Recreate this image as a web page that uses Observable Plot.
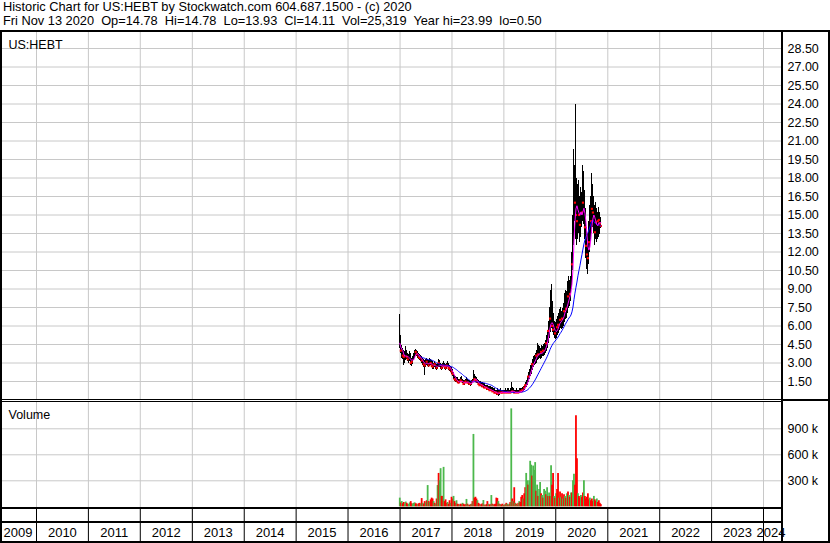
<!DOCTYPE html>
<html><head><meta charset="utf-8">
<script src="https://cdn.jsdelivr.net/npm/d3@7"></script>
<script src="https://cdn.jsdelivr.net/npm/@observablehq/plot@0.6"></script>
<style>
html,body{margin:0;padding:0;background:#fff;}
#chart{position:relative;width:830px;height:543px;overflow:hidden;background:#fff;font-family:"Liberation Sans",Arial,sans-serif;color:#000;}
.hdr{position:absolute;left:3px;font-size:12.8px;white-space:pre;line-height:14px;}
.ln{position:absolute;background:#000;}
.pl{position:absolute;left:0;}
</style></head><body><div id="chart"></div>
<script>
// ---------- data ----------
const title = "Historic Chart for US:HEBT by Stockwatch.com 604.687.1500 - (c) 2020";
const quote = "Fri Nov 13 2020  Op=14.78  Hi=14.78  Lo=13.93  Cl=14.11  Vol=25,319  Year hi=23.99  lo=0.50";
const symbol = "US:HEBT";
const volumeTitle = "Volume";
const firstWeek = "2016-12-30"; // weekly bars, one per week
const high = [
 6.9,5.2,4.4,4.2,4.0,3.9,4.3,4.0,3.8,3.7,
 3.9,3.8,3.4,3.5,3.8,4.0,4.1,4.0,3.9,3.8,
 3.7,3.6,3.5,3.4,3.3,3.2,3.3,3.4,3.3,3.2,
 3.4,3.3,3.2,3.1,3.0,3.1,3.0,2.9,3.0,3.3,
 3.2,3.0,2.9,3.0,3.1,3.0,2.9,3.0,3.1,3.0,
 2.8,2.7,2.6,2.5,2.2,2.0,1.9,1.8,1.8,1.7,
 1.7,1.8,1.9,1.7,1.6,1.6,1.7,1.8,1.7,1.6,
 1.6,1.5,1.6,1.7,2.4,2.1,1.9,1.8,1.7,1.6,
 1.5,1.5,1.4,1.4,1.3,1.3,1.2,1.2,1.2,1.1,
 1.1,1.1,1.0,1.0,0.9,0.9,0.8,0.8,0.9,0.8,
 0.8,0.9,0.8,0.8,0.8,0.8,0.9,0.8,0.9,0.9,
 0.8,0.9,1.4,1.0,0.9,0.8,0.8,0.9,0.8,0.8,
 0.9,0.9,0.9,1.0,1.1,1.2,1.4,1.6,1.9,2.2,
 2.5,2.8,3.0,3.3,3.5,3.6,3.8,4.0,4.6,4.4,
 4.3,4.2,4.4,4.3,4.5,4.6,4.8,5.2,5.6,6.4,
 7.5,8.9,9.4,8.0,7.0,6.4,6.3,6.5,6.8,7.0,
 7.3,7.5,7.2,7.4,7.8,8.6,8.9,8.4,8.8,9.6,
 10.0,9.7,10.0,12.0,15.0,20.3,19.0,23.99,18.0,17.5,
 17.8,16.5,17.2,16.8,19.0,18.5,17.0,15.5,14.0,13.5,
 14.5,15.8,16.5,18.4,17.5,16.5,15.8,16.0,15.5,15.2,
 15.6,15.2,14.78];
const low = [
 4.2,3.8,3.4,3.3,2.8,3.0,3.2,3.3,3.1,3.0,
 3.1,2.8,2.7,2.9,3.2,3.4,3.5,3.5,3.4,3.3,
 3.2,3.1,3.0,2.8,2.6,2.0,2.6,2.8,2.7,2.6,
 2.7,2.8,2.6,2.5,2.5,2.6,2.5,2.4,2.5,2.6,
 2.6,2.5,2.4,2.5,2.6,2.5,2.4,2.5,2.6,2.4,
 2.3,2.2,2.1,1.9,1.7,1.5,1.4,1.4,1.3,1.3,
 1.3,1.4,1.4,1.3,1.2,1.2,1.3,1.3,1.3,1.2,
 1.2,1.1,1.2,1.3,1.4,1.5,1.4,1.3,1.3,1.2,
 1.1,1.1,1.0,1.0,0.9,0.9,0.9,0.8,0.8,0.8,
 0.7,0.7,0.7,0.6,0.6,0.5,0.5,0.4,0.4,0.3,
 0.4,0.5,0.5,0.5,0.5,0.5,0.5,0.5,0.5,0.5,
 0.5,0.5,0.6,0.6,0.5,0.5,0.5,0.5,0.5,0.5,
 0.5,0.6,0.6,0.6,0.7,0.8,0.9,1.0,1.2,1.4,
 1.7,1.9,2.1,2.4,2.6,2.8,2.9,3.0,3.2,3.3,
 3.4,3.3,3.4,3.5,3.5,3.6,3.8,3.9,4.2,4.6,
 5.0,5.5,5.8,5.5,5.2,5.0,4.9,5.0,5.2,5.4,
 5.6,5.8,5.7,5.8,6.0,6.3,6.5,6.6,6.8,7.0,
 7.4,7.6,8.0,9.0,10.5,12.5,14.5,13.0,12.5,13.0,
 13.5,12.8,13.2,14.0,14.5,14.2,13.0,11.5,10.6,10.2,
 11.0,12.0,12.8,13.5,14.0,13.5,12.5,13.0,12.8,13.0,
 13.2,13.4,13.93];
const close = [
 4.6,4.0,3.8,3.6,3.5,3.3,3.9,3.5,3.3,3.2,
 3.6,3.0,3.1,3.3,3.6,3.8,3.9,3.7,3.6,3.5,
 3.4,3.3,3.2,3.0,2.9,2.8,3.0,3.1,2.9,2.8,
 3.1,3.0,2.8,2.7,2.8,2.9,2.7,2.6,2.7,3.0,
 2.8,2.7,2.6,2.8,2.9,2.7,2.6,2.8,2.9,2.6,
 2.5,2.4,2.3,2.1,1.9,1.7,1.6,1.5,1.5,1.4,
 1.5,1.6,1.5,1.4,1.3,1.4,1.5,1.5,1.4,1.4,
 1.3,1.3,1.4,1.5,1.9,1.7,1.6,1.5,1.4,1.3,
 1.2,1.3,1.2,1.1,1.1,1.0,1.0,1.0,0.9,0.9,
 0.8,0.8,0.8,0.7,0.7,0.6,0.6,0.6,0.5,0.5,
 0.6,0.7,0.6,0.6,0.6,0.6,0.6,0.6,0.7,0.6,
 0.6,0.6,0.9,0.7,0.6,0.6,0.6,0.6,0.6,0.6,
 0.7,0.7,0.7,0.8,0.9,1.0,1.2,1.4,1.6,1.9,
 2.2,2.4,2.7,2.9,3.1,3.2,3.4,3.6,3.8,3.7,
 3.8,3.7,3.9,3.8,4.0,4.1,4.3,4.6,5.0,5.6,
 6.2,6.6,6.3,6.0,5.7,5.5,5.4,5.6,5.9,6.1,
 6.4,6.5,6.3,6.6,6.9,7.2,7.6,7.4,7.8,8.4,
 8.8,8.6,9.2,11.0,13.5,17.5,16.0,15.0,14.5,16.2,
 15.0,14.2,15.6,15.2,16.0,15.4,14.0,12.5,11.8,11.5,
 12.8,13.5,14.5,15.5,15.2,14.8,13.6,14.4,14.0,14.5,
 14.6,14.3,14.11];
const volumeK = [
 100,45,60,35,50,30,55,40,25,30,
 45,60,35,30,40,45,35,30,25,35,
 40,30,95,40,30,60,45,70,245,60,
 50,80,100,90,60,40,30,90,245,385,
 300,440,120,120,455,60,80,40,50,30,
 70,40,110,90,120,60,40,70,30,25,
 20,30,25,40,30,20,25,85,30,20,
 15,25,30,60,835,100,110,90,70,40,
 30,20,25,35,73,20,15,25,60,30,
 20,25,130,30,20,25,30,100,95,60,
 30,25,20,30,15,20,25,40,30,20,
 30,50,1130,90,60,220,40,30,20,40,
 60,50,110,130,90,150,220,385,300,250,
 300,525,480,355,470,420,510,180,250,120,
 200,280,150,130,100,200,180,140,220,120,
 160,120,475,250,385,120,100,150,200,385,
 100,170,110,150,90,140,120,100,150,170,
 130,110,160,160,300,375,250,1050,555,150,
 120,100,130,110,160,300,120,90,110,150,
 80,100,70,90,60,120,80,60,90,50,
 70,40,25];
// 1 = up day (green volume), 0 = down day (red volume, red close mark)
const upWeek = [
 1,0,1,0,0,1,1,0,0,1,
 1,0,0,1,1,1,0,0,1,0,
 0,1,0,1,0,0,1,0,1,0,
 1,0,0,0,1,0,1,0,1,0,
 1,1,0,0,1,0,0,0,1,0,
 0,1,0,0,1,0,0,1,0,0,
 1,0,0,1,0,0,0,1,0,1,
 0,0,1,0,1,0,0,0,1,0,
 0,1,0,0,1,0,1,0,0,1,
 0,0,1,0,1,0,0,0,0,1,
 0,1,0,0,1,0,1,0,1,0,
 1,0,1,0,1,0,1,0,1,0,
 1,0,0,0,1,0,0,1,1,0,
 1,1,1,0,1,1,1,0,1,0,
 1,1,0,1,0,1,1,0,1,0,
 1,0,1,0,0,1,0,1,0,0,
 1,0,1,0,1,0,1,0,1,0,
 1,0,1,0,1,1,0,0,0,1,
 0,0,1,0,0,1,0,0,0,0,
 0,1,0,0,0,1,0,0,1,0,
 0,0,0];
const priceTicks = [1.5,3,4.5,6,7.5,9,10.5,12,13.5,15,16.5,18,19.5,21,22.5,24,25.5,27,28.5];
const volumeTicks = [300000,600000,900000];
const years = [2009,2010,2011,2012,2013,2014,2015,2016,2017,2018,2019,2020,2021,2022,2023,2024];

// ---------- build ----------
const t0 = new Date(firstWeek + "T00:00:00Z");
const rows = high.map((h, i) => ({
  date: d3.utcDay.offset(t0, 7 * i),
  high: h, low: low[i], close: close[i],
  volume: volumeK[i] * 1000,
  up: upWeek[i] === 1
}));
const yearStarts = years.slice(1).map(y => new Date(Date.UTC(y, 0, 1)));
const X = {type: "utc", domain: [new Date(Date.UTC(2010,0,1)), new Date(Date.UTC(2024,0,1))], range: [36, 763]};
const xs = d3.scaleUtc(X.domain, X.range);
const FONT = "'Liberation Sans', Arial, sans-serif";
const GRID = "#c8c8c8";
const W = 830, ML = 2, MR = 48;
const baseStyle = {background: "transparent", fontFamily: FONT, fontSize: "12.5px", color: "#000", overflow: "visible"};

const chart = document.getElementById("chart");
function add(el, top) { el.classList.add("pl"); el.style.top = top + "px"; chart.appendChild(el); }
function line(l, t, w, h) { const d = document.createElement("div"); d.className = "ln"; Object.assign(d.style, {left: l + "px", top: t + "px", width: w + "px", height: h + "px"}); chart.appendChild(d); }

// header
[[title, 0], [quote, 14]].forEach(([s, t]) => { const d = document.createElement("div"); d.className = "hdr"; d.style.top = t + "px"; d.textContent = s; chart.appendChild(d); });

// price panel
const price = Plot.plot({
  width: W, height: 367, marginLeft: ML, marginRight: MR, marginTop: 0, marginBottom: 0,
  style: baseStyle,
  x: {...X, axis: null},
  y: {domain: [0, 28.5], range: [367.5, 16], axis: null},
  marks: [
    Plot.gridX(yearStarts, {stroke: GRID, strokeOpacity: 1}),
    Plot.gridY(priceTicks, {stroke: GRID, strokeOpacity: 1}),
    Plot.axisY(priceTicks, {anchor: "right", tickSize: 0, tickPadding: 5, tickFormat: d3.format(".2f"), label: null, fill: "#000"}),
    Plot.ruleX(rows, {x: "date", y1: "low", y2: "high", stroke: "#000", strokeWidth: 1, shapeRendering: "crispEdges"}),
    Plot.dot(rows.filter(d => !d.up), {x: "date", y: "close", r: 1.2, symbol: "square", fill: "#ff0000"}),
    Plot.lineY(rows, Plot.windowY({k: 20, anchor: "end", strict: true}, {x: "date", y: "close", stroke: "#0000ff", strokeWidth: 1})),
    Plot.lineY(rows, Plot.windowY({k: 4, anchor: "end"}, {x: "date", y: "close", stroke: "#ff00ff", strokeWidth: 1})),
    Plot.text([symbol], {text: d => d, frameAnchor: "top-left", dx: 6, dy: 8, textAnchor: "start", fill: "#000"})
  ]
});
add(price, 32);

// volume panel
const vol = Plot.plot({
  width: W, height: 105, marginLeft: ML, marginRight: MR, marginTop: 0, marginBottom: 0,
  style: baseStyle,
  x: {...X, axis: null},
  y: {domain: [0, 900000], range: [104.3, 26.3], axis: null},
  color: {type: "identity"},
  marks: [
    Plot.gridX(yearStarts, {stroke: GRID, strokeOpacity: 1}),
    Plot.gridY(volumeTicks, {stroke: GRID, strokeOpacity: 1}),
    Plot.axisY(volumeTicks, {anchor: "right", tickSize: 0, tickPadding: 5, tickFormat: d => d / 1000 + " k", label: null, fill: "#000"}),
    Plot.ruleX(rows, {x: "date", y: "volume", stroke: d => d.up ? "#4cb84c" : "#ff0000", strokeWidth: 1.8}),
    Plot.text([volumeTitle], {text: d => d, frameAnchor: "top-left", dx: 6, dy: 8, textAnchor: "start", fill: "#000"})
  ]
});
add(vol, 402);

// blank band with year separators
const band = Plot.plot({
  width: W, height: 12, marginLeft: ML, marginRight: MR, marginTop: 0, marginBottom: 0,
  style: baseStyle, x: {...X, axis: null},
  marks: [Plot.ruleX(yearStarts, {stroke: "#000"})]
});
add(band, 509);

// year labels row
const mid = years.map(y => ({year: y, date: new Date(Date.UTC(y, 6, 2))}));
const leftEdge = xs.invert(3), rightEdge = xs.invert(785);
const inside = mid.filter(d => d.date > xs.invert(20) && d.date < xs.invert(765));
const lab = Plot.plot({
  width: W, height: 18, marginLeft: ML, marginRight: MR, marginTop: 0, marginBottom: 0,
  style: {...baseStyle, fontSize: "13px"}, x: {...X, axis: null},
  marks: [
    Plot.ruleX(yearStarts, {stroke: "#000"}),
    Plot.text(inside, {x: "date", text: d => String(d.year), frameAnchor: "middle", fill: "#000"}),
    Plot.text(mid.slice(0, 1), {x: () => leftEdge, text: d => String(d.year), frameAnchor: "middle", textAnchor: "start", fill: "#000"}),
    Plot.text(mid.slice(-1), {x: () => rightEdge, text: d => String(d.year), frameAnchor: "middle", textAnchor: "end", fill: "#000"})
  ]
});
add(lab, 523);

// frame lines
line(0, 30, 830, 2);      // header separator
line(0, 30, 2, 513);      // left border
line(828, 30, 2, 513);    // right border
line(0, 541, 830, 2);     // bottom border
line(781, 30, 2, 513);    // value axis line
line(0, 399, 782, 1); line(0, 401, 782, 1); line(782, 399, 48, 2); // double divider
line(0, 507, 782, 2);     // volume baseline
line(0, 521, 782, 2);     // band divider
</script></body></html>
